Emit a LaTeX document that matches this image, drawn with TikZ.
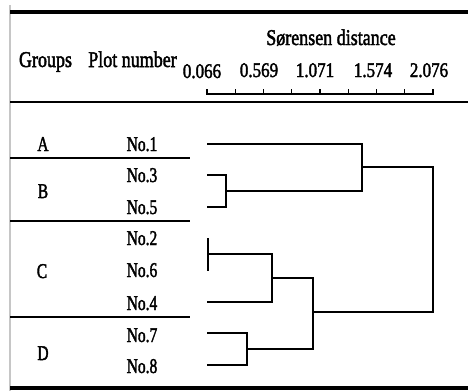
\documentclass[tikz,border=0pt]{standalone}
\usepackage{fontspec}
\setmainfont{Liberation Serif}
\newfontfamily\heavy[FakeBold=2.2]{Liberation Serif}
\newcommand{\vst}[2]{\scalebox{1}[#1]{#2}}
\begin{document}
\begin{tikzpicture}[x=1pt,y=-1pt,
  hdr/.style={font=\heavy\fontsize{18}{20}\selectfont, inner sep=0pt, anchor=base},
  num/.style={font=\heavy\fontsize{17}{19}\selectfont, inner sep=0pt, anchor=base},
  lbl/.style={font=\heavy\fontsize{15.5}{18}\selectfont, inner sep=0pt, anchor=base},
  thickrule/.style={line width=3.5pt},
  midrule/.style={line width=2pt},
  den/.style={line width=2pt, line join=miter},
  axisline/.style={line width=1.2pt}]
\useasboundingbox (0,0) rectangle (468,391);
% frame
\draw[gray!45, line width=1.5pt] (10,5) -- (10,391);
\draw[thickrule] (10,12) -- (468,12);
\draw[midrule] (10,102) -- (468,102);
\draw[thickrule] (10,388) -- (468,388);
\draw[midrule] (10,158) -- (190,158);
\draw[midrule] (10,221) -- (190,221);
\draw[midrule] (10,317) -- (190,317);
% header
\node[hdr] (groups) at (45.5,67) {\vst{1.25}{Groups}};
\node[hdr] (plotnum) at (132.5,67) {\vst{1.25}{Plot number}};
\node[hdr] (sor) at (331,45) {\vst{1.25}{Sørensen distance}};
\node[num] (t0) at (202,78) {\vst{1.22}{0.066}};
\node[num] (t1) at (259,77) {\vst{1.22}{0.569}};
\node[num] (t2) at (315,77) {\vst{1.22}{1.071}};
\node[num] (t3) at (373,77) {\vst{1.22}{1.574}};
\node[num] (t4) at (429,77) {\vst{1.22}{2.076}};
% axis
\coordinate (ax0) at (207,94);
\coordinate (ax8) at (433,94);
\draw[axisline] (ax0) -- (ax8);
\foreach \i in {0,...,8} \draw[axisline] (207+28.25*\i,94.5) -- ++(0,-5.5);
% groups
\node[lbl] (gA) at (43,151) {\vst{1.35}{A}};
\node[lbl] (gB) at (43,198) {\vst{1.35}{B}};
\node[lbl] (gC) at (42,278) {\vst{1.35}{C}};
\node[lbl] (gD) at (43,360) {\vst{1.35}{D}};
% plot numbers
\node[lbl] (n1) at (142,151) {\vst{1.35}{No.1}};
\node[lbl] (n3) at (142,182) {\vst{1.35}{No.3}};
\node[lbl] (n5) at (142,214) {\vst{1.35}{No.5}};
\node[lbl] (n2) at (142,245) {\vst{1.35}{No.2}};
\node[lbl] (n6) at (142,277) {\vst{1.35}{No.6}};
\node[lbl] (n4) at (142,310) {\vst{1.35}{No.4}};
\node[lbl] (n7) at (142,342) {\vst{1.35}{No.7}};
\node[lbl] (n8) at (142,373) {\vst{1.35}{No.8}};
% dendrogram leaves
\coordinate (l1) at (207,144);
\coordinate (l3) at (207,175);
\coordinate (l5) at (207,207);
\coordinate (l2) at (208,238);
\coordinate (l6) at (208,271);
\coordinate (l4) at (207,302);
\coordinate (l7) at (207,333);
\coordinate (l8) at (207,365);
% joins
\coordinate (jB) at (226,191);
\coordinate (jAB) at (362,167);
\coordinate (j26) at (208,254);
\coordinate (j264) at (272,278);
\coordinate (j78) at (247,349);
\coordinate (jCD) at (313,312);
\coordinate (root) at (433,240);
\draw[den] (l3) -| (jB) |- (l5);
\draw[den] (l1) -| (jAB) |- (jB);
\draw[den] (l2) -- (l6);
\draw[den] (j26) -| (j264) |- (l4);
\draw[den] (l7) -| (j78) |- (l8);
\draw[den] (j264) -| (jCD) |- (j78);
\draw[den] (jAB) -| (root) |- (jCD);
\end{tikzpicture}
\end{document}
